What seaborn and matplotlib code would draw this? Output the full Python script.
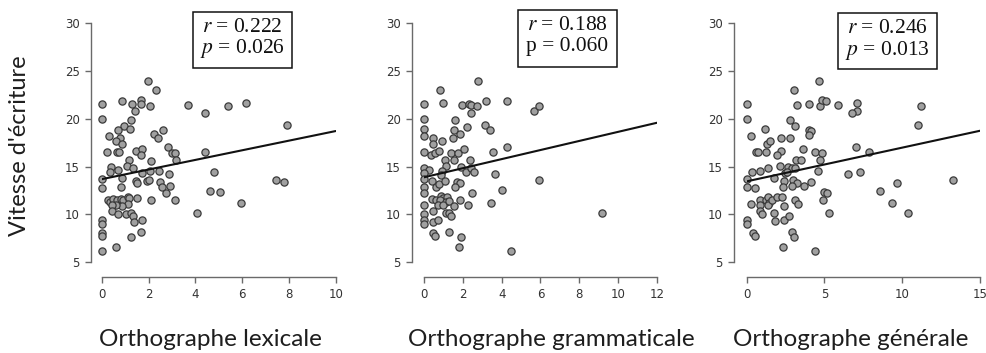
import matplotlib
matplotlib.use("Agg")
import matplotlib.pyplot as plt
import seaborn as sns
import pandas as pd
from matplotlib.patches import Rectangle

# Writing speed (shared y) against three spelling scores
lex_x = [1.96, 2.32, 0.00, 0.85, 1.31, 1.42, 1.68, 1.68, 2.08, 3.67, 4.41, 5.39, 6.15, 7.91,
         0.00, 1.25, 0.94, 0.68, 1.21, 0.31, 0.78, 0.61, 0.85, 2.23, 2.42, 2.63,
         0.21, 0.64, 0.75, 1.46, 1.71, 1.66, 2.82, 3.00, 3.13, 3.16, 4.40,
         1.17, 0.40, 0.36, 0.68, 1.07, 1.35, 1.72, 2.12, 2.05, 2.46, 2.89, 4.78,
         0.00, 0.00, 0.85, 0.81, 1.46, 1.49, 1.92, 2.03, 2.49, 2.56, 2.94, 2.73, 4.61, 5.04, 7.43, 7.78,
         0.28, 0.36, 0.50, 0.64, 0.83, 0.92, 1.11, 1.18, 1.11, 0.85, 0.61, 0.43, 0.46, 0.71, 1.04,
         1.25, 1.35, 1.38, 1.74, 1.49, 2.09, 3.14,
         4.08, 5.96, 0.00, 0.00, 0.00, 0.00, 1.24, 1.68, 0.60, 0.00]
lex_y = [23.95, 23.0, 21.5, 21.8, 21.5, 20.8, 22.0, 21.5, 21.3, 21.4, 20.6, 21.3, 21.6, 19.3,
         20.0, 19.9, 19.2, 18.8, 18.9, 18.2, 18.0, 17.7, 17.4, 18.4, 18.0, 18.8,
         16.5, 16.5, 16.5, 16.6, 16.8, 16.2, 17.0, 16.4, 16.4, 15.7, 16.5,
         15.7, 15.0, 14.4, 14.6, 15.1, 14.9, 14.3, 15.6, 14.5, 14.5, 14.2, 14.4,
         13.7, 12.8, 13.8, 12.9, 13.5, 13.3, 13.5, 13.6, 13.4, 12.9, 13.0, 12.2, 12.5, 12.3, 13.6, 13.4,
         11.47, 11.3, 11.57, 11.47, 11.57, 11.47, 11.8, 11.7, 11.1, 10.9, 11.0, 11.0, 10.35, 10.0, 10.07,
         10.2, 9.8, 9.23, 9.44, 11.7, 11.47, 11.5,
         10.1, 11.2, 9.4, 9.0, 8.1, 7.7, 7.65, 8.2, 6.6, 6.2]

gram_x = [2.77, 0.80, 0.00, 0.96, 1.98, 2.34, 2.44, 2.72, 3.20, 4.27, 2.43, 5.69, 5.90,
          0.00, 1.61, 0.00, 1.54, 2.24, 3.13, 3.39, 0.00, 0.44, 0.48, 0.94, 1.49, 1.83,
          0.00, 0.36, 0.55, 0.79, 1.40, 1.73, 2.05, 3.54, 4.27, 1.56, 1.08, 2.36, 1.15,
          0.00, 0.27, 0.00, 0.94, 0.89, 1.91, 2.15, 2.43, 2.58, 3.64,
          0.00, 0.00, 0.00, 0.39, 0.62, 0.77, 1.06, 1.71, 1.85, 1.62, 2.48, 4.00, 5.90,
          0.39, 0.60, 0.85, 0.99, 1.16, 0.82, 1.11, 0.72, 0.99, 1.28,
          1.83, 1.54, 2.26, 3.44, 0.00, 0.00, 0.46, 1.11, 1.28, 1.40, 0.00, 0.00, 0.46, 0.74,
          0.44, 0.58, 1.30, 1.88, 1.79, 4.48, 9.16]
gram_y = [23.9, 23.0, 21.5, 21.6, 21.4, 21.5, 21.4, 21.3, 21.9, 21.8, 20.6, 20.8, 21.3,
          20.0, 19.9, 18.9, 18.8, 19.1, 19.3, 18.8, 18.2, 18.0, 17.4, 17.7, 18.0, 18.4,
          16.5, 16.2, 16.4, 16.6, 16.4, 16.4, 16.85, 16.5, 17.0, 15.7, 15.7, 15.7, 15.1,
          14.9, 14.6, 14.3, 14.5, 14.1, 15.0, 14.4, 14.9, 14.4, 14.2,
          13.7, 12.9, 12.2, 13.5, 12.9, 13.2, 13.5, 13.4, 13.3, 12.9, 12.2, 12.55, 13.6,
          11.6, 11.5, 11.9, 11.7, 11.8, 11.5, 11.3, 11.0, 11.0, 11.4,
          11.5, 10.9, 11.0, 11.2, 11.0, 10.0, 10.35, 10.1, 10.1, 9.8, 9.4, 9.0, 9.2, 9.4,
          8.1, 7.7, 8.2, 7.65, 6.6, 6.2, 10.2]

gen_x = [4.67, 3.06, 0.00, 3.25, 4.00, 4.73, 4.84, 5.07, 5.89, 7.07, 7.09, 6.77, 11.22, 10.99,
         0.00, 2.80, 3.13, 1.18, 4.03, 4.13, 3.98, 0.30, 2.20, 2.78, 1.28, 1.50, 3.64, 7.04,
         0.60, 0.75, 1.24, 2.20, 1.95, 4.39, 4.84, 7.88, 3.15, 3.49, 4.73, 2.16, 1.35,
         0.00, 0.00, 0.32, 0.88, 2.68, 2.89, 3.13, 2.46, 2.57, 4.58, 1.73, 2.40, 3.00, 3.23,
         3.66, 4.15, 2.33, 2.91, 0.54,
         6.49, 7.30, 9.64, 13.28, 8.54, 4.99, 5.16, 4.88, 9.36, 10.34, 5.29, 0.28,
         0.84, 1.22, 1.39, 1.45, 0.86, 1.35, 1.65, 1.93, 2.25, 2.41, 3.13, 3.32,
         0.84, 1.00, 1.73, 1.82, 2.42, 2.72, 0.00, 0.00, 0.39, 0.54, 2.91, 3.06, 2.33, 4.39]
gen_y = [23.9, 23.0, 21.5, 21.4, 21.5, 21.3, 22.0, 21.8, 21.4, 21.6, 20.8, 20.6, 21.3, 19.3,
         20.0, 19.9, 19.2, 18.9, 18.8, 18.75, 18.35, 18.2, 18.0, 18.0, 17.4, 17.7, 16.8, 17.0,
         16.5, 16.5, 16.5, 16.6, 16.2, 16.5, 16.4, 16.5, 15.7, 15.7, 15.7, 15.1, 14.85,
         13.7, 12.9, 14.4, 14.5, 15.0, 14.9, 14.9, 14.3, 14.4, 14.5, 13.8, 13.5, 13.6, 13.3,
         13.0, 13.4, 12.9, 13.0, 12.8,
         14.2, 14.4, 13.3, 13.6, 12.5, 12.3, 12.2, 11.5, 11.2, 10.2, 10.1, 11.1,
         11.5, 11.5, 11.85, 11.2, 11.0, 11.0, 11.5, 11.85, 11.8, 10.9, 11.5, 11.1,
         10.35, 10.0, 10.1, 9.3, 9.4, 9.8, 9.4, 9.0, 8.1, 7.7, 8.2, 7.65, 6.6, 6.2]

x_labels = ["Orthographe lexicale", "Orthographe grammaticale", "Orthographe générale"]
x_ticks = [[0, 2, 4, 6, 8, 10], [0, 2, 4, 6, 8, 10, 12], [0, 5, 10, 15]]
y_ticks = [5, 10, 15, 20, 25, 30]
r_values = ["0.222", "0.188", "0.246"]
p_values = ["0.026", "0.060", "0.013"]
p_italic = [True, False, True]
y_label = "Vitesse d'écriture"

sns.set_theme(style="ticks")
plt.rcParams["mathtext.fontset"] = "stix"
plt.rcParams["axes.edgecolor"] = "#6a6a6a"

W, H = 987, 353
fig = plt.figure(figsize=(W / 100, H / 100), dpi=100)


def rect(left, right, top, bottom):
    return [left / W, 1 - bottom / H, (right - left) / W, (bottom - top) / H]


# pixel layout of each panel: data area, left-axis gap, label centre, stats box
axes_px = [(101.7, 335.7), (424.0, 657.0), (746.7, 980.0)]
left_gap_px = [11.0, 12.3, 12.7]
label_cx = [210, 551, 851]
box_px = [(193, 292, 12, 68), (518, 617, 10, 67), (838, 937, 13, 69)]

series = [(lex_x, lex_y), (gram_x, gram_y), (gen_x, gen_y)]
label_font = ["Lato", "DejaVu Sans"]

for i, (xs, ys) in enumerate(series):
    left, right = axes_px[i]
    ax = fig.add_axes(rect(left, right, 23, 262.3))
    df = pd.DataFrame({"x": xs, "y": ys})
    ax.set_xlim(0, x_ticks[i][-1])
    ax.set_ylim(5, 30)
    sns.regplot(data=df, x="x", y="y", ax=ax, ci=None, truncate=False,
                scatter_kws=dict(s=27, color="#a0a0a0", edgecolor="#3a3a3a",
                                 linewidths=0.9, alpha=1, clip_on=False, zorder=3),
                line_kws=dict(color="#111111", lw=1.5, zorder=4))
    ax.set_xlim(0, x_ticks[i][-1])
    ax.set_ylim(5, 30)
    sns.despine(ax=ax)
    ax.spines["left"].set_position(("outward", left_gap_px[i] * 0.72))
    ax.spines["bottom"].set_position(("outward", 14.4 * 0.72))
    for s in ("left", "bottom"):
        ax.spines[s].set_linewidth(1.0)
    ax.set_xticks(x_ticks[i])
    ax.set_yticks(y_ticks)
    ax.tick_params(length=4.6, width=1.0, color="#6a6a6a", labelsize=8.5,
                   labelcolor="#333333", pad=3.4)
    for lab in ax.get_xticklabels() + ax.get_yticklabels():
        lab.set_family("DejaVu Sans")
    ax.set_xlabel("")
    ax.set_ylabel("")

    fig.text(label_cx[i] / W, 1 - 340 / H, x_labels[i], ha="center", va="center",
             fontsize=17.5, family=label_font, color="#1e1e1e")

    bl, br, bt, bb = box_px[i]
    fig.patches.append(Rectangle((bl / W, 1 - bb / H), (br - bl) / W, (bb - bt) / H,
                                 transform=fig.transFigure, facecolor="white",
                                 edgecolor="#111111", lw=1.1, zorder=5))
    cx = (bl + br) / 2 / W
    p_txt = "$p$" if p_italic[i] else "p"
    fig.text(cx, 1 - (bt + 15.5) / H, f"$r$ = {r_values[i]}", ha="center", va="center",
             fontsize=15.5, family="Liberation Serif", zorder=6, color="#111111")
    fig.text(cx, 1 - (bt + 37) / H, f"{p_txt} = {p_values[i]}", ha="center", va="center",
             fontsize=15.5, family="Liberation Serif", zorder=6, color="#111111")

fig.text(20 / W, 1 - 146 / H, y_label, rotation=90, ha="center", va="center",
         fontsize=17, family=label_font, color="#1e1e1e")

fig.savefig("out.png", dpi=100)
